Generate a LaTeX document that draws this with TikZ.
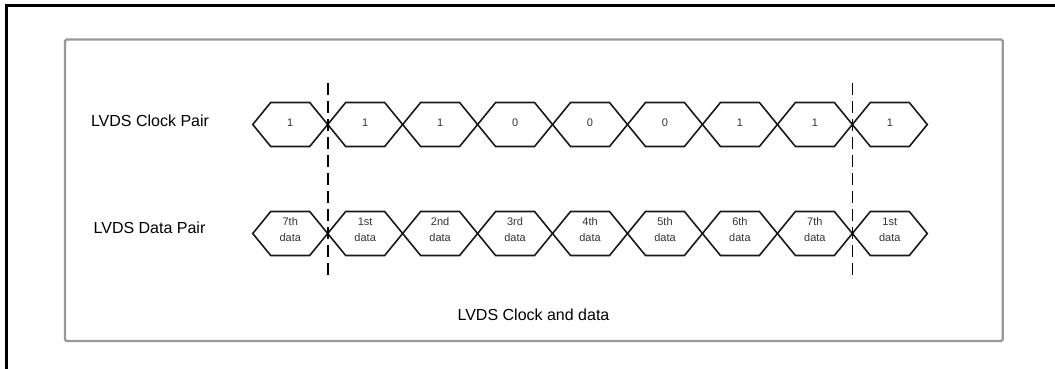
\documentclass[tikz,border=0pt]{standalone}
\usepackage{fontspec}
\setmainfont{Liberation Sans}
\begin{document}
\begin{tikzpicture}[x=1pt,y=-1pt,
  sig/.style={draw=black!90,line width=1.6pt,line join=miter},
  hexlbl/.style={inner sep=0pt,align=center,text=black!80,font=\fontsize{11}{16}\selectfont},
  rowlbl/.style={inner sep=0pt,text=black,font=\fontsize{16}{19}\selectfont},
  dashline/.style={draw=black,line width=1.7pt,dash pattern=on 12pt off 6pt},
  outerframe/.style={draw=black,line width=2.4pt},
  innerframe/.style={draw=black!40,line width=2.2pt,rounded corners=1.5pt}]
\useasboundingbox (0,0) rectangle (1055,368);
% outer frame (only top and left visible)
\draw[outerframe] (1056,5.5) -- (6.5,5.5) -- (6.5,369);
% inner frame
\draw[innerframe] (65,39.5) rectangle (1002.7,341);
% row labels
\node[rowlbl] (clklbl) at (150,121) {LVDS Clock Pair};
\node[rowlbl] (datlbl) at (149.5,228) {LVDS Data Pair};
\node[rowlbl] (title) at (533.5,315) {LVDS Clock and data};
% clock row
\foreach \v [count=\i from 0] in {1,1,1,0,0,0,1,1,1} {
  \pgfmathsetmacro\xl{252.75+74.95*\i}
  \pgfmathsetmacro\xr{\xl+74.95}
  \draw[sig] (\xl,124.5) -- (\xl+18,102.5) -- (\xr-18,102.5) -- (\xr,124.5)
     -- (\xr-18,146.5) -- (\xl+18,146.5) -- cycle;
  \node[hexlbl] (clk\i) at ({\xl+37.475},122.5) {\v};
}
% data row
\foreach \v [count=\i from 0] in {7th,1st,2nd,3rd,4th,5th,6th,7th,1st} {
  \pgfmathsetmacro\xl{252.75+74.95*\i}
  \pgfmathsetmacro\xr{\xl+74.95}
  \draw[sig] (\xl,233.5) -- (\xl+18,211.5) -- (\xr-18,211.5) -- (\xr,233.5)
     -- (\xr-18,255.5) -- (\xl+18,255.5) -- cycle;
  \node[hexlbl] (dat\i) at ({\xl+37.475},230) {\v\\data};
}
% dashed markers
\coordinate (d1t) at (327.7,83);
\coordinate (d1b) at (327.7,276);
\coordinate (d2t) at (852.4,83);
\coordinate (d2b) at (852.4,276);
\draw[dashline] (d1t) -- (d1b);
\draw[dashline] (d2t) -- (d2b);
\end{tikzpicture}
\end{document}
